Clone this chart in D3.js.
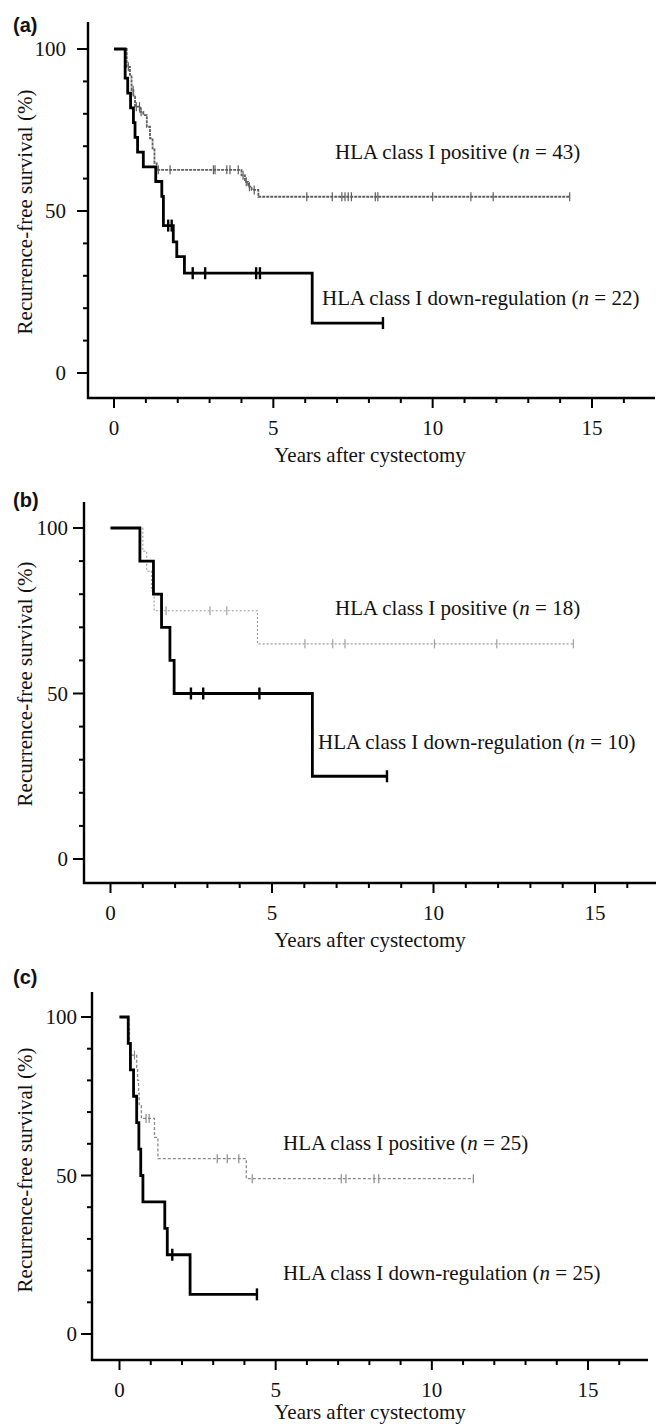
<!DOCTYPE html>
<html>
<head>
<meta charset="utf-8">
<script src="https://cdn.jsdelivr.net/npm/d3@7"></script>
<style>
  html, body { margin: 0; padding: 0; background: #fff; }
  svg text { font-family: "Liberation Serif", "Times New Roman", serif; fill: #111; }
  svg text.tag { font-family: "Liberation Sans", Arial, sans-serif; font-weight: bold; }
</style>
</head>
<body>
<div id="chart"></div>
<script>
// ---- data (years after cystectomy, recurrence-free survival %) ----
const xTicks = [0, 5, 10, 15];
const yTicks = [0, 50, 100];
const yLabel = 'Recurrence-free survival (%)';
const xLabel = 'Years after cystectomy';
const panelTags = ['(a)', '(b)', '(c)'];
const posN  = [43, 18, 25];
const downN = [22, 10, 25];

// [time, survival after the drop]
const aPosSteps = [[0.40,94.5],[0.50,92.0],[0.55,87.3],[0.61,85.3],[0.66,82.2],[0.82,80.6],[0.92,79.6],[1.03,76.0],[1.13,72.4],[1.21,69.3],[1.27,64.7],[1.34,62.7],[4.00,61.0],[4.11,59.0],[4.21,57.5],[4.32,56.5],[4.53,54.4]];
const aPosCensor = [0.45,0.60,0.70,0.80,0.85,1.39,1.76,3.12,3.17,3.54,3.64,3.90,4.05,4.15,4.25,4.40,6.05,6.85,7.15,7.25,7.35,7.45,8.20,8.28,10.0,11.2,11.9,14.3];
const aPosEnd = 14.3;
const aDownSteps = [[0.35,91.0],[0.43,86.4],[0.52,81.8],[0.61,77.3],[0.66,72.7],[0.74,68.2],[0.92,63.6],[1.31,59.1],[1.50,54.5],[1.55,45.5],[1.86,40.5],[1.97,35.9],[2.21,30.8],[6.22,15.4]];
const aDownCensor = [1.70,1.81,2.47,2.86,4.46,4.58,8.44];
const aDownEnd = 8.44;

const bPosSteps = [[1.00,93],[1.12,87],[1.27,81],[1.35,75],[4.55,65]];
const bPosCensor = [1.72,3.08,3.60,6.02,6.88,7.26,10.03,11.96,14.33];
const bPosEnd = 14.33;
const bDownSteps = [[0.91,90],[1.33,80],[1.58,70],[1.84,60],[1.97,50],[6.25,25]];
const bDownCensor = [2.49,2.87,4.61,8.56];
const bDownEnd = 8.56;

const cPosSteps = [[0.30,96],[0.32,92],[0.34,88],[0.55,84],[0.58,80],[0.61,76],[0.63,72],[0.70,68],[1.12,62],[1.23,55.3],[4.06,49]];
const cPosCensor = [0.48,0.85,0.95,3.13,3.45,3.82,4.25,7.10,7.25,8.15,8.30,11.33];
const cPosEnd = 11.33;
const cDownSteps = [[0.28,91.7],[0.35,83.3],[0.45,75],[0.55,66.7],[0.62,58.3],[0.68,50],[0.75,41.7],[1.45,33.3],[1.53,25],[2.26,12.5]];
const cDownCensor = [1.69,4.40];
const cDownEnd = 4.40;

// ---- layout of the three stacked panels ----
const layout = [
  {axisX: 88, axisY: 398, top: 22,  x0: 114,   x15: 592, right: 655, y0: 373,  y100: 49,
   tagY: 25,  tickEnd: 66, posLab: [335,152],  downLab: [322,298],  yLabY: 212, titleDy: 57},
  {axisX: 84, axisY: 883, top: 502, x0: 110.5, x15: 595, right: 656, y0: 859,  y100: 528,
   tagY: 500, tickEnd: 68, posLab: [335,608],  downLab: [318,742],  yLabY: 684, titleDy: 57},
  {axisX: 92, axisY: 1360, top: 992, x0: 119.5, x15: 588, right: 648, y0: 1334, y100: 1017,
   tagY: 977, tickEnd: 77, posLab: [283,1143], downLab: [283,1273], yLabY: 1170, titleDy: 52}
];
const posStyle = [
  {stroke: '#5e5e5e', width: 1.8, dash: '3,1'},
  {stroke: '#a0a0a0', width: 1.2, dash: '2,2'},
  {stroke: '#8a8a8a', width: 1.3, dash: '3,2'}
];

const series = [
  {pos: [aPosSteps, aPosCensor, aPosEnd], down: [aDownSteps, aDownCensor, aDownEnd]},
  {pos: [bPosSteps, bPosCensor, bPosEnd], down: [bDownSteps, bDownCensor, bDownEnd]},
  {pos: [cPosSteps, cPosCensor, cPosEnd], down: [cDownSteps, cDownCensor, cDownEnd]}
];

const W = 665, H = 1427;
const svg = d3.select('#chart').append('svg')
  .attr('width', W).attr('height', H)
  .attr('viewBox', `0 0 ${W} ${H}`);

function survAt(steps, t) {
  let s = 100;
  steps.forEach(([ts, v]) => { if (ts <= t) s = v; });
  return s;
}

layout.forEach((L, i) => {
  const g = svg.append('g');
  const x = d3.scaleLinear().domain([0, 15]).range([L.x0, L.x15]);
  const y = d3.scaleLinear().domain([0, 100]).range([L.y0, L.y100]);

  // axes lines
  g.append('line').attr('x1', L.axisX).attr('x2', L.axisX)
    .attr('y1', L.top).attr('y2', L.axisY + 1)
    .attr('stroke', '#000').attr('stroke-width', 2.4);
  g.append('line').attr('x1', L.axisX - 1).attr('x2', L.right)
    .attr('y1', L.axisY).attr('y2', L.axisY)
    .attr('stroke', '#000').attr('stroke-width', 2.4);

  // y ticks (minor every 10, major at labels)
  d3.range(0, 101, 10).forEach(v => {
    const major = yTicks.includes(v);
    g.append('line')
      .attr('x1', L.axisX - (major ? 11 : 5)).attr('x2', L.axisX)
      .attr('y1', y(v)).attr('y2', y(v))
      .attr('stroke', '#000').attr('stroke-width', 2);
  });
  g.selectAll('.ytl').data(yTicks).enter().append('text')
    .attr('x', L.tickEnd).attr('y', d => y(d))
    .attr('text-anchor', 'end').attr('dominant-baseline', 'central')
    .attr('font-size', 21).text(d => d);

  // x ticks (minor each year)
  d3.range(0, 17).forEach(v => {
    const major = xTicks.includes(v);
    g.append('line')
      .attr('x1', x(v)).attr('x2', x(v))
      .attr('y1', L.axisY).attr('y2', L.axisY + (major ? 10 : 5))
      .attr('stroke', '#000').attr('stroke-width', 2);
  });
  g.selectAll('.xtl').data(xTicks).enter().append('text')
    .attr('x', d => x(d)).attr('y', L.axisY + 30)
    .attr('text-anchor', 'middle').attr('dominant-baseline', 'central')
    .attr('font-size', 21).text(d => d);

  g.append('text')
    .attr('x', 370).attr('y', L.axisY + L.titleDy)
    .attr('text-anchor', 'middle').attr('dominant-baseline', 'central')
    .attr('font-size', 21).text(xLabel);

  g.append('text')
    .attr('transform', `translate(25,${L.yLabY}) rotate(-90)`)
    .attr('text-anchor', 'middle').attr('dominant-baseline', 'central')
    .attr('font-size', 21).text(yLabel);

  g.append('text').attr('class', 'tag')
    .attr('x', 13).attr('y', L.tagY)
    .attr('dominant-baseline', 'central')
    .attr('font-size', 20).text(panelTags[i]);

  const line = d3.line().x(d => x(d[0])).y(d => y(d[1])).curve(d3.curveStepAfter);

  function drawCurve([steps, censor, end], style, tickH, tickW) {
    const pts = [[0, 100]].concat(steps, [[end, steps[steps.length - 1][1]]]);
    g.append('path').attr('d', line(pts))
      .attr('fill', 'none')
      .attr('stroke', style.stroke).attr('stroke-width', style.width)
      .attr('stroke-dasharray', style.dash || null);
    g.selectAll(null).data(censor).enter().append('line')
      .attr('x1', d => x(d)).attr('x2', d => x(d))
      .attr('y1', d => y(survAt(steps, d)) - tickH / 2)
      .attr('y2', d => y(survAt(steps, d)) + tickH / 2)
      .attr('stroke', style.stroke).attr('stroke-width', tickW);
  }

  drawCurve(series[i].pos, posStyle[i], 9, 1.2);
  drawCurve(series[i].down, {stroke: '#000', width: 2.8}, 12, 2.4);

  // curve labels
  const lab = (pos, txt, n) => {
    const t = g.append('text').attr('x', pos[0]).attr('y', pos[1])
      .attr('dominant-baseline', 'central').attr('font-size', 21);
    t.append('tspan').text(txt + ' (');
    t.append('tspan').attr('font-style', 'italic').text('n');
    t.append('tspan').text(' = ' + n + ')');
  };
  lab(L.posLab, 'HLA class I positive', posN[i]);
  lab(L.downLab, 'HLA class I down-regulation', downN[i]);
});
</script>
</body>
</html>
